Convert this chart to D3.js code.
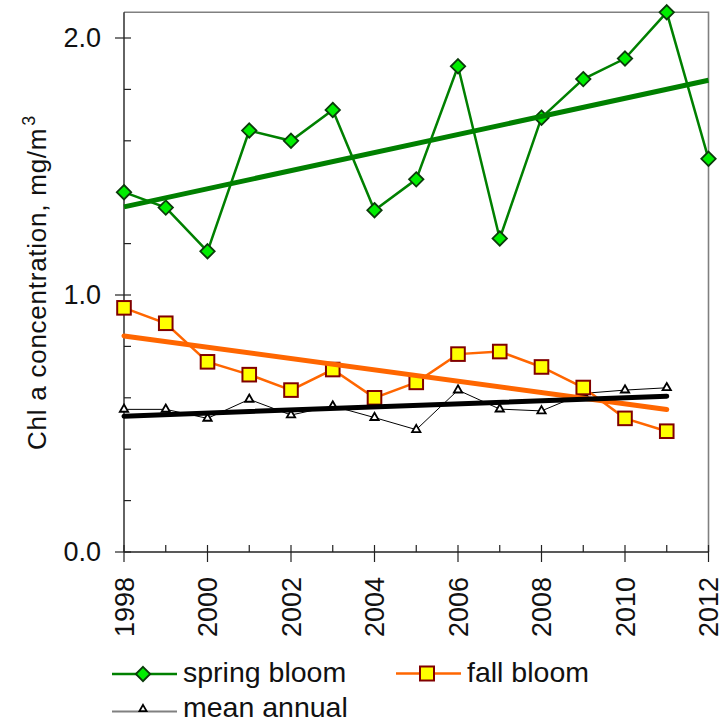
<!DOCTYPE html>
<html><head><meta charset="utf-8">
<script src="https://cdn.jsdelivr.net/npm/d3@7"></script>
<style>
html,body{margin:0;padding:0;background:#fff;}
svg{display:block;font-family:"Liberation Sans",Arial,sans-serif;}
</style></head>
<body><svg id="c" width="726" height="720"></svg>
<script>
const years = [1998,1999,2000,2001,2002,2003,2004,2005,2006,2007,2008,2009,2010,2011,2012];
const springBloom = [1.40,1.34,1.17,1.64,1.60,1.72,1.33,1.45,1.89,1.22,1.69,1.84,1.92,2.10,1.53];
const fallYears = [1998,1999,2000,2001,2002,2003,2004,2005,2006,2007,2008,2009,2010,2011];
const fallBloom = [0.95,0.89,0.74,0.69,0.63,0.71,0.60,0.66,0.77,0.78,0.72,0.64,0.52,0.47];
const meanAnnual = [0.555,0.555,0.52,0.594,0.533,0.568,0.523,0.476,0.63,0.556,0.549,0.617,0.63,0.639];
const xTickLabels = ["1998","2000","2002","2004","2006","2008","2010","2012"];
const yTickLabels = ["0.0","1.0","2.0"];
const legendLabels = ["spring bloom","fall bloom","mean annual"];

const svg = d3.select("#c");
const L=124, R=708.5, T=12.3, B=552;
const x = d3.scaleLinear().domain([1998,2012]).range([L,R]);
const y = d3.scaleLinear().domain([0,2.1]).range([B,T]);

// frame: top and right gray
svg.append("path").attr("d",`M${L},${T}H${x(2012)}V${B}`).attr("fill","none").attr("stroke","#808080").attr("stroke-width",1.6);

// y axis
const yMajor = yTickLabels.map(Number);
const yMinor = d3.range(0,2.01,0.2).filter(v=>!yMajor.some(m=>Math.abs(m-v)<1e-6));
const gy = svg.append("g");
gy.append("line").attr("x1",L).attr("x2",L).attr("y1",T).attr("y2",B).attr("stroke","#222").attr("stroke-width",1.4);
gy.selectAll(".mj").data(yMajor).enter().append("line").attr("x1",L-9).attr("x2",L+7).attr("y1",d=>y(d)).attr("y2",d=>y(d)).attr("stroke","#222").attr("stroke-width",1.2);
gy.selectAll(".mn").data(yMinor).enter().append("line").attr("x1",L).attr("x2",L+7).attr("y1",d=>y(d)).attr("y2",d=>y(d)).attr("stroke","#222").attr("stroke-width",1.2);
gy.selectAll(".lb").data(yTickLabels).enter().append("text").attr("x",101).attr("y",d=>y(+d)).attr("dy","0.35em").attr("text-anchor","end").attr("font-size",27).attr("fill","#111").text(d=>d);

// x axis
const xMajor = xTickLabels.map(Number);
const xMinor = years.filter(v=>!xMajor.includes(v));
const gx = svg.append("g");
gx.append("line").attr("x1",L).attr("x2",x(2012)).attr("y1",B).attr("y2",B).attr("stroke","#222").attr("stroke-width",1.4);
gx.selectAll(".mj").data(xMajor).enter().append("line").attr("x1",d=>x(d)).attr("x2",d=>x(d)).attr("y1",B-7).attr("y2",B+10).attr("stroke","#222").attr("stroke-width",1.2);
gx.selectAll(".mn").data(xMinor).enter().append("line").attr("x1",d=>x(d)).attr("x2",d=>x(d)).attr("y1",B-7).attr("y2",B).attr("stroke","#222").attr("stroke-width",1.2);
gx.selectAll(".lb").data(xTickLabels).enter().append("text")
  .attr("transform",d=>`translate(${x(+d)},577) rotate(-90)`).attr("dy","0.36em").attr("text-anchor","end")
  .attr("font-size",27).attr("fill","#111").text(d=>d);

// y title
const tt = svg.append("text").attr("transform","translate(46,450) rotate(-90)").attr("font-size",26).attr("letter-spacing",0.75).attr("fill","#111");
tt.append("tspan").text("Chl a concentration, mg/m");
tt.append("tspan").attr("dy",-11).attr("dx",2).attr("font-size",18).text("3");

function fit(xs, ys){
  const mx=d3.mean(xs), my=d3.mean(ys);
  let sxy=0,sxx=0; xs.forEach((v,i)=>{sxy+=(v-mx)*(ys[i]-my); sxx+=(v-mx)*(v-mx);});
  const b=sxy/sxx; return v=>my+b*(v-mx);
}
const line = d3.line().x(d=>x(d[0])).y(d=>y(d[1]));
const springPts = years.map((v,i)=>[v,springBloom[i]]);
const fallPts = fallYears.map((v,i)=>[v,fallBloom[i]]);
const meanPts = fallYears.map((v,i)=>[v,meanAnnual[i]]);

const diamond = r=>`M0,${-r}L${r},0L0,${r}L${-r},0Z`;
const tri = d3.symbol().type(d3.symbolTriangle).size(30);

// mean annual
svg.append("path").attr("d",line(meanPts)).attr("fill","none").attr("stroke","#000").attr("stroke-width",1);
svg.selectAll(".tm").data(meanPts).enter().append("path").attr("d",tri).attr("transform",d=>`translate(${x(d[0])},${y(d[1])})`)
  .attr("fill","#fff").attr("stroke","#000").attr("stroke-width",1.8);
// fall bloom
svg.append("path").attr("d",line(fallPts)).attr("fill","none").attr("stroke","#FF6600").attr("stroke-width",2.5);
svg.selectAll(".sq").data(fallPts).enter().append("rect").attr("x",d=>x(d[0])-6.8).attr("y",d=>y(d[1])-6.8).attr("width",13.6).attr("height",13.6)
  .attr("fill","#FFFF00").attr("stroke","#800000").attr("stroke-width",2);
// spring bloom
svg.append("path").attr("d",line(springPts)).attr("fill","none").attr("stroke","#008000").attr("stroke-width",2.5);
svg.selectAll(".dm").data(springPts).enter().append("path").attr("d",diamond(7.2)).attr("transform",d=>`translate(${x(d[0])},${y(d[1])})`)
  .attr("fill","#00EE00").attr("stroke","#0b3b0b").attr("stroke-width",1.8);

// trends
const fs = fit(years, springBloom), ff = fit(fallYears, fallBloom), fm = fit(fallYears, meanAnnual);
svg.append("path").attr("d",line([[1998,fs(1998)],[2012,fs(2012)]])).attr("stroke","#008000").attr("stroke-width",5).attr("fill","none");
svg.append("path").attr("d",line([[1998,ff(1998)],[2011,ff(2011)]])).attr("stroke","#FF6600").attr("stroke-width",5).attr("fill","none").attr("stroke-linecap","round");
svg.append("path").attr("d",line([[1998,fm(1998)],[2011,fm(2011)]])).attr("stroke","#000").attr("stroke-width",5).attr("fill","none").attr("stroke-linecap","round");

// legend
const lg = svg.append("g").attr("font-size",28.5).attr("fill","#111");
// spring
lg.append("line").attr("x1",112).attr("x2",177).attr("y1",674).attr("y2",674).attr("stroke","#008000").attr("stroke-width",2.5);
lg.append("path").attr("d",diamond(7.2)).attr("transform","translate(143,674)").attr("fill","#00EE00").attr("stroke","#0b3b0b").attr("stroke-width",1.8);
lg.append("text").attr("x",183).attr("y",682).text(legendLabels[0]);
// fall
lg.append("line").attr("x1",396).attr("x2",461).attr("y1",673.5).attr("y2",673.5).attr("stroke","#FF6600").attr("stroke-width",2.5);
lg.append("rect").attr("x",420).attr("y",666.5).attr("width",14).attr("height",14).attr("fill","#FFFF00").attr("stroke","#800000").attr("stroke-width",2);
lg.append("text").attr("x",467).attr("y",682).text(legendLabels[1]);
// mean
lg.append("line").attr("x1",112).attr("x2",177).attr("y1",711.5).attr("y2",711.5).attr("stroke","#808080").attr("stroke-width",2);
lg.append("path").attr("d",d3.symbol().type(d3.symbolTriangle).size(22)).attr("transform","translate(143,709)").attr("fill","#fff").attr("stroke","#000").attr("stroke-width",1.8);
lg.append("text").attr("x",183).attr("y",717).text(legendLabels[2]);
</script></body></html>
